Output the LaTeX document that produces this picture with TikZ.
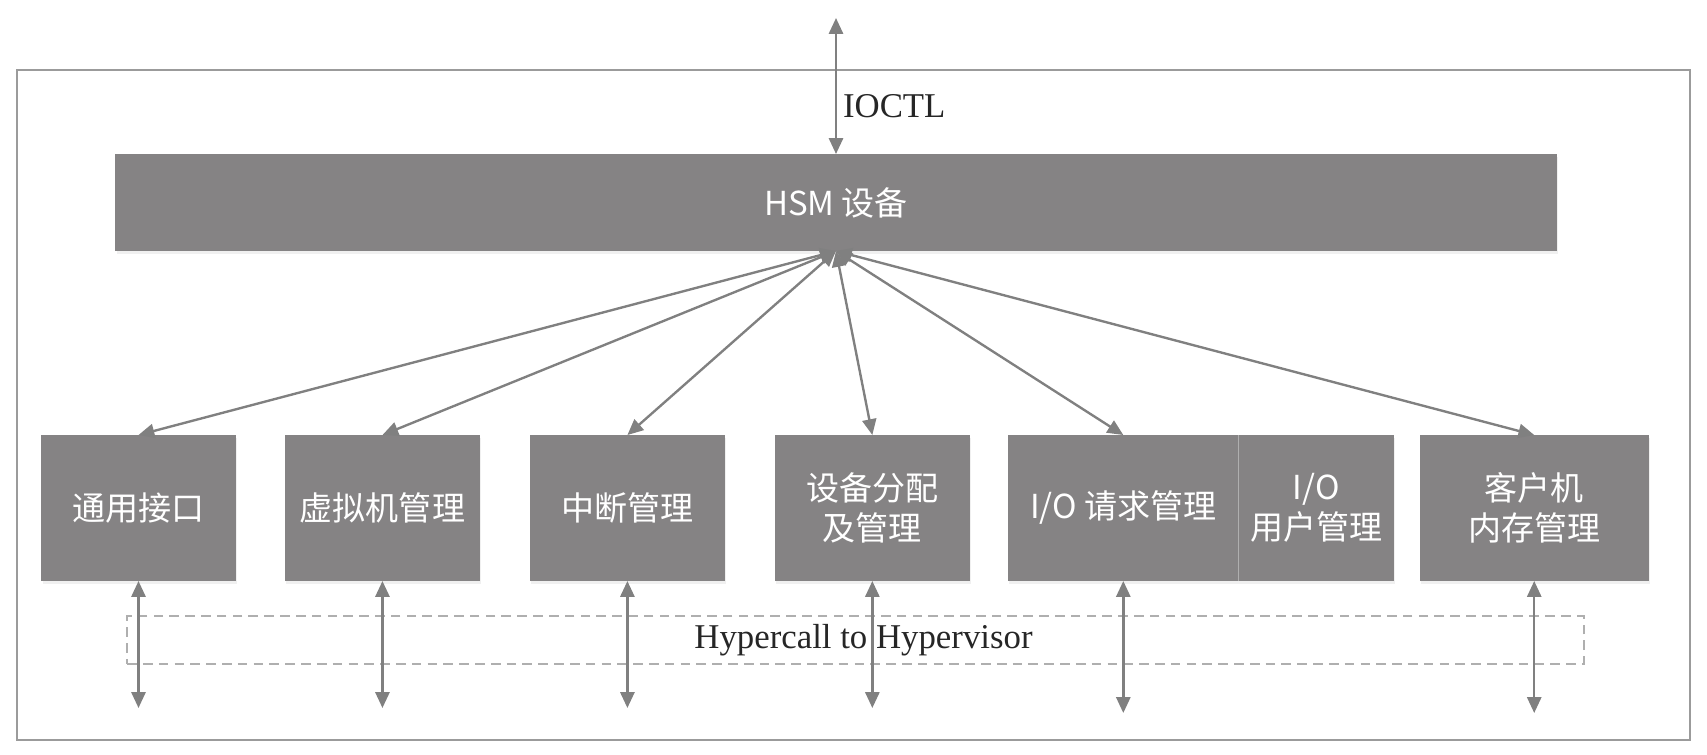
\documentclass[tikz,border=0pt]{standalone}
\usepackage{fontspec}
\setmainfont{Liberation Serif}
\newfontfamily\cjk{Noto Sans CJK SC}
\usetikzlibrary{calc, arrows.meta, positioning, shadows}

\definecolor{boxgray}{RGB}{133,131,132}
\definecolor{arrgray}{RGB}{128,128,128}
\definecolor{framegray}{RGB}{155,155,155}
\definecolor{dashgray}{RGB}{175,175,175}

\begin{document}
\begin{tikzpicture}[
    x=0.02cm, y=0.02cm,
    box/.style={
        rectangle, fill=boxgray, draw=none, outer sep=0pt, inner sep=2pt,
        minimum width=3.9cm, minimum height=2.92cm,
        align=center, text=white, font=\cjk\fontsize{18.8}{22.8}\selectfont,
        drop shadow={shadow xshift=0.03cm, shadow yshift=-0.06cm, opacity=0.12}
    },
    bus/.style={
        rectangle, draw=dashgray, line width=0.8pt, dash pattern=on 5.5pt off 3.5pt,
        minimum width=29.14cm, minimum height=0.96cm,
        font=\fontsize{19.8}{22}\selectfont, text=black!85
    },
    arr/.style={{Triangle[length=9pt,width=8pt]}-{Triangle[length=9pt,width=8pt]},
        line width=1.35pt, draw=arrgray, fill=arrgray},
    frame/.style={draw=framegray, line width=1pt},
    divider/.style={draw=dashgray, line width=0.7pt},
]
\useasboundingbox (0,0) rectangle (1707,-754);

% Outer frame
\draw[frame] (17,-70) rectangle (1690,-740);

% HSM device (top)
\node[box, minimum width=28.84cm, minimum height=1.94cm] (hsm) at (836,-202.5) {HSM 设备};

% Modules (bottom row)
\node[box] (gi) at (138.5,-508) {通用接口};
\node[box, right=0.98cm of gi] (vm) {虚拟机管理};
\node[box, right=1.0cm of vm] (irq) {中断管理};
\node[box, right=1.0cm of irq] (dev) {设备分配\\及管理};
\node[box, minimum width=4.62cm, right=0.76cm of dev] (ioreq) {I/O 请求管理};
\node[box, minimum width=3.1cm, right=0cm of ioreq] (iouser) {I/O\\用户管理};
\node[box, minimum width=4.58cm, right=0.52cm of iouser] (mem) {客户机\\内存管理};

% Divider between the two I/O parts
\draw[divider] (ioreq.north east) -- (ioreq.south east);

% Hypercall bus
\node[bus] (bus) at (855.5,-640) {\hspace*{0.32cm}Hypercall to Hypervisor};

% IOCTL from user space
\coordinate (ioctl) at (836,-18);
\draw[arr] (hsm.north) -- (ioctl)
    node[pos=0.35, right, font=\fontsize{19.8}{22}\selectfont, text=black!85] {IOCTL};

% HSM to modules
\draw[arr] (hsm.south) -- (gi.north);
\draw[arr] (hsm.south) -- (vm.north);
\draw[arr] (hsm.south) -- (irq.north);
\draw[arr] (hsm.south) -- (dev.north);
\draw[arr] (hsm.south) -- (ioreq.north);
\draw[arr] (hsm.south) -- (mem.north);

% Modules to hypervisor
\coordinate (low) at (0,-708);
\coordinate (lowr) at (0,-713);
\draw[arr] (gi.south) -- (gi.south |- low);
\draw[arr] (vm.south) -- (vm.south |- low);
\draw[arr] (irq.south) -- (irq.south |- low);
\draw[arr] (dev.south) -- (dev.south |- low);
\draw[arr] (ioreq.south) -- (ioreq.south |- lowr);
\draw[arr] (mem.south) -- (mem.south |- lowr);

\end{tikzpicture}
\end{document}
